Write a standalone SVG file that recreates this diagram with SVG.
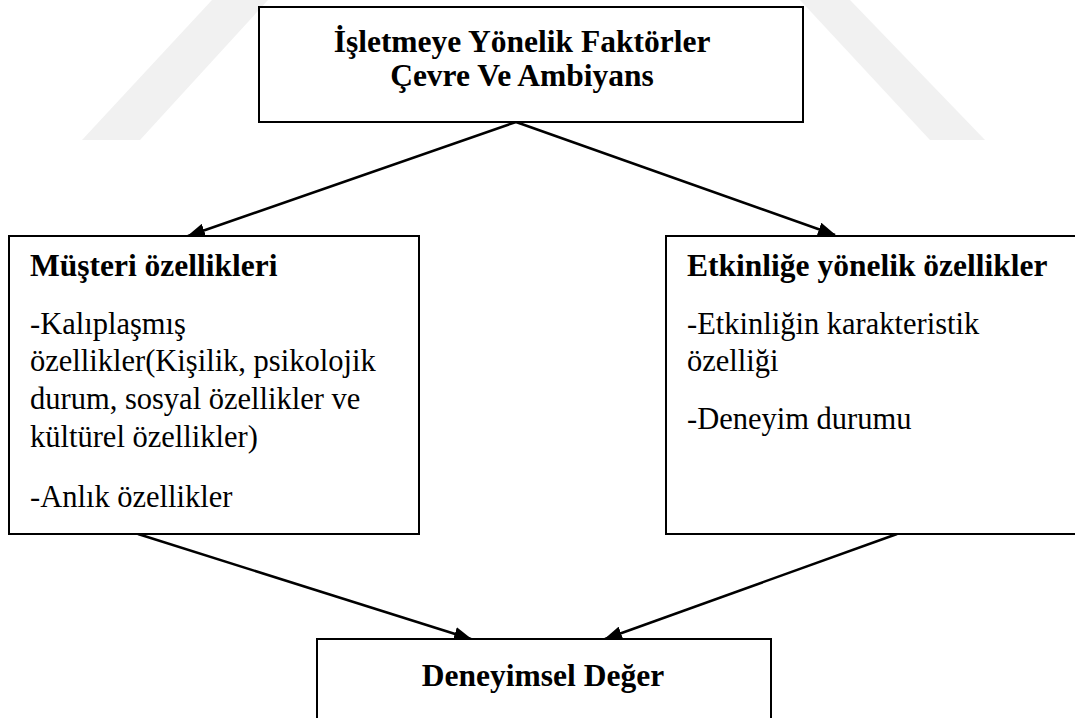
<svg xmlns="http://www.w3.org/2000/svg" width="1075" height="718" viewBox="0 0 1075 718">
  <style>
    .box { fill: #ffffff; stroke: #000000; stroke-width: 2; }
    .title { font-family: "Liberation Serif", "DejaVu Serif", serif; font-weight: bold; font-size: 31.5px; fill: #000000; }
    .body { font-family: "Liberation Serif", "DejaVu Serif", serif; font-size: 30.5px; fill: #000000; }
    .conn { stroke: #000000; stroke-width: 2.5; fill: none; marker-end: url(#arrow); }
    .wm { fill: #f1f1f1; }
  </style>
  <defs>
    <marker id="arrow" markerUnits="userSpaceOnUse" markerWidth="18" markerHeight="14" refX="17" refY="7" orient="auto">
      <path d="M0,0 L18,7 L0,14 z" fill="#000000"/>
    </marker>
  </defs>
  <rect width="1075" height="718" fill="#ffffff"/>
  <g id="watermark">
    <polygon class="wm" points="82,140 140,140 268,0 212,0"/>
    <polygon class="wm" points="800,0 850,0 985,140 930,140"/>
  </g>
  <g id="connectors">
    <line class="conn" x1="516" y1="122" x2="188" y2="236"/>
    <line class="conn" x1="516" y1="122" x2="835" y2="235"/>
    <line class="conn" x1="138" y1="534" x2="471" y2="639"/>
    <line class="conn" x1="897" y1="534" x2="605" y2="639"/>
  </g>
  <g id="node-top">
    <rect class="box" x="259" y="7" width="544" height="115"/>
    <text class="title" x="522" y="52" text-anchor="middle">İşletmeye Yönelik Faktörler</text>
    <text class="title" x="522" y="86" text-anchor="middle">Çevre Ve Ambiyans</text>
  </g>
  <g id="node-musteri">
    <rect class="box" x="9" y="236" width="410" height="298"/>
    <text class="title" x="30" y="276">Müşteri özellikleri</text>
    <text class="body" x="30" y="334">-Kalıplaşmış</text>
    <text class="body" x="30" y="371">özellikler(Kişilik, psikolojik</text>
    <text class="body" x="30" y="409">durum, sosyal özellikler ve</text>
    <text class="body" x="30" y="447">kültürel özellikler)</text>
    <text class="body" x="30" y="507">-Anlık özellikler</text>
  </g>
  <g id="node-etkinlik">
    <rect class="box" x="666" y="236" width="420" height="298"/>
    <text class="title" x="687" y="276">Etkinliğe yönelik özellikler</text>
    <text class="body" x="687" y="334">-Etkinliğin karakteristik</text>
    <text class="body" x="687" y="371">özelliği</text>
    <text class="body" x="687" y="429">-Deneyim durumu</text>
  </g>
  <g id="node-deger">
    <rect class="box" x="317" y="639" width="454" height="100"/>
    <text class="title" x="543" y="686" text-anchor="middle">Deneyimsel Değer</text>
  </g>
</svg>
